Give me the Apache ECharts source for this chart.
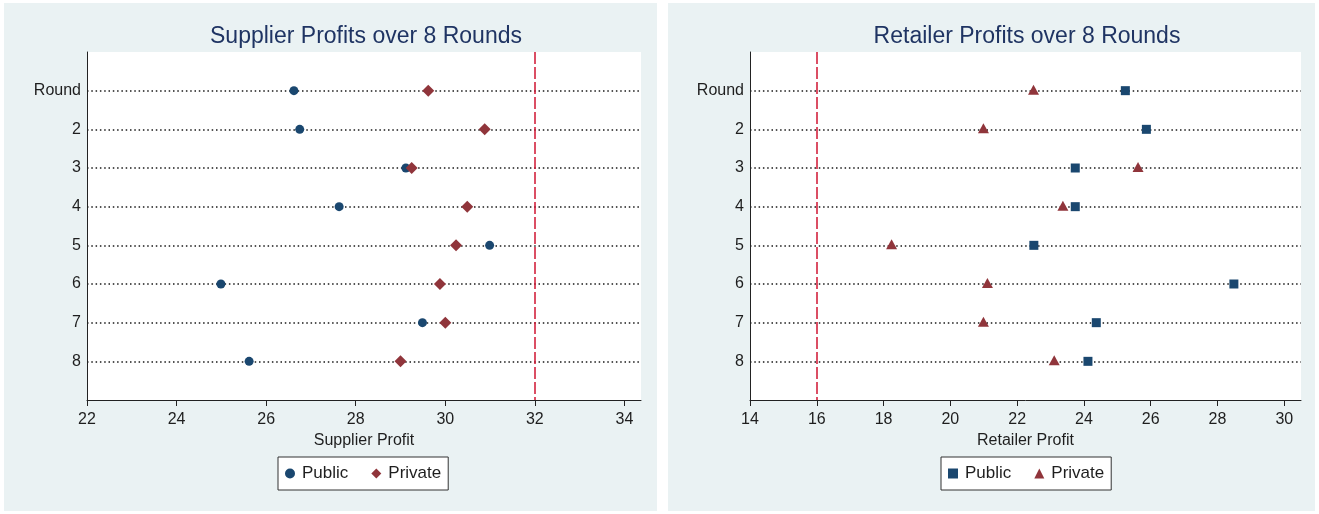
<!DOCTYPE html>
<html>
<head>
<meta charset="utf-8">
<script src="https://cdn.jsdelivr.net/npm/echarts@6/dist/echarts.min.js"></script>
<style>
  html, body { margin: 0; padding: 0; background: #ffffff; width: 1319px; height: 514px; overflow: hidden; }
  .panel { position: absolute; background: #eaf2f3; }
  #left { left: 4px; top: 3px; width: 653px; height: 508px; }
  #right { left: 668px; top: 3px; width: 647px; height: 508px; }
</style>
</head>
<body>
<div id="left" class="panel"></div>
<div id="right" class="panel"></div>
<script>
// ---- data ----
const roundLabels = ['Round', '2', '3', '4', '5', '6', '7', '8'];
const seriesNames = ['Public', 'Private'];

const supplierPublic  = [26.62, 26.75, 29.12, 27.63, 30.99, 24.99, 29.49, 25.62];
const supplierPrivate = [29.62, 30.88, 29.25, 30.49, 30.24, 29.88, 30.00, 29.00];
const supplierTicks   = [22, 24, 26, 28, 30, 32, 34];
const supplierRef     = 32;

const retailerPublic  = [25.24, 25.87, 23.74, 23.74, 22.50, 28.49, 24.37, 24.12];
const retailerPrivate = [22.49, 20.99, 25.62, 23.37, 18.24, 21.11, 20.99, 23.11];
const retailerTicks   = [14, 16, 18, 20, 22, 24, 26, 28, 30];
const retailerRef     = 16;

// ---- styling ----
const FONT = '"Liberation Sans", Arial, sans-serif';
const NAVY = '#1a476f';
const MAROON = '#90353b';
const REFRED = '#cf1432';
const TEXT = '#1e1e1e';

function toPoints(vals) {
  return vals.map((v, i) => [v, i + 1]);
}

function buildOption(cfg) {
  return {
    backgroundColor: '#eaf2f3',
    animation: false,
    textStyle: { fontFamily: FONT },
    title: {
      text: cfg.title,
      left: cfg.titleCenter,
      textAlign: 'center',
      top: 17,
      textStyle: { fontFamily: FONT, fontSize: 23, fontWeight: 'normal', color: '#1f3463' }
    },
    grid: {
      left: cfg.gridLeft, right: cfg.gridRight, top: 49, bottom: 111,
      show: true, backgroundColor: '#ffffff', borderWidth: 0
    },
    legend: {
      left: cfg.legendLeft, top: 454,
      orient: 'horizontal',
      backgroundColor: '#ffffff',
      borderColor: '#333333', borderWidth: 1, borderRadius: 0,
      padding: [8, 7, 8, 7],
      itemGap: 23,
      itemWidth: 10, itemHeight: 10,
      textStyle: { fontFamily: FONT, fontSize: 17, color: TEXT, padding: [0, 0, 0, 2] },
      data: seriesNames
    },
    xAxis: {
      type: 'value',
      min: cfg.xMin, max: cfg.xMax,
      name: cfg.xName, nameLocation: 'middle', nameGap: 30,
      nameTextStyle: { fontFamily: FONT, fontSize: 16, color: TEXT },
      axisLine: { show: true, onZero: false, lineStyle: { color: '#222', width: 1 } },
      axisTick: { show: true, length: 6, customValues: cfg.ticks, lineStyle: { color: '#222', width: 1 } },
      axisLabel: { customValues: cfg.ticks, fontFamily: FONT, fontSize: 16, color: TEXT, margin: 12 },
      splitLine: { show: false }
    },
    yAxis: {
      type: 'value',
      min: 0, max: roundLabels.length + 1, interval: 1,
      inverse: true,
      axisLine: { show: true, onZero: false, lineStyle: { color: '#222', width: 1 } },
      axisTick: { show: false },
      axisLabel: {
        fontFamily: FONT, fontSize: 16, color: TEXT, margin: 6,
        formatter: v => (v >= 1 && v <= roundLabels.length) ? roundLabels[v - 1] : ''
      },
      splitLine: {
        show: true, showMinLine: false, showMaxLine: false,
        lineStyle: { color: '#1a1a1a', width: 1.5, type: [1.5, 2.8] }
      }
    },
    series: [
      {
        name: seriesNames[0], type: 'scatter',
        symbol: cfg.pubSymbol, symbolSize: cfg.pubSize, symbolKeepAspect: true,
        itemStyle: { color: NAVY, opacity: 1 },
        data: toPoints(cfg.pub),
        z: 3,
        markLine: {
          silent: true, symbol: ['none', 'none'],
          label: { show: false },
          lineStyle: { color: REFRED, width: 1.5, type: [12, 3], opacity: 1 },
          data: [{ xAxis: cfg.ref }],
          z: 2
        }
      },
      {
        name: seriesNames[1], type: 'scatter',
        symbol: cfg.privSymbol, symbolSize: cfg.privSize, symbolKeepAspect: true,
        symbolOffset: cfg.privOffset,
        itemStyle: { color: MAROON, opacity: 1 },
        data: toPoints(cfg.priv),
        z: 4
      }
    ]
  };
}

const leftChart = echarts.init(document.getElementById('left'), null, { renderer: 'canvas' });
leftChart.setOption(buildOption({
  title: 'Supplier Profits over 8 Rounds', titleCenter: 357,
  gridLeft: 83, gridRight: 16,
  legendLeft: 274,
  xMin: 22, xMax: 34.37, ticks: supplierTicks, ref: supplierRef,
  xName: 'Supplier Profit',
  pub: supplierPublic, priv: supplierPrivate,
  pubSymbol: 'circle', pubSize: 9,
  privSymbol: 'diamond', privSize: [12, 12], privOffset: [0, 0]
}));

const rightChart = echarts.init(document.getElementById('right'), null, { renderer: 'canvas' });
rightChart.setOption(buildOption({
  title: 'Retailer Profits over 8 Rounds', titleCenter: 354,
  gridLeft: 82, gridRight: 14,
  legendLeft: 273,
  xMin: 14, xMax: 30.5, ticks: retailerTicks, ref: retailerRef,
  xName: 'Retailer Profit',
  pub: retailerPublic, priv: retailerPrivate,
  pubSymbol: 'rect', pubSize: 9,
  privSymbol: 'triangle', privSize: [11, 10], privOffset: [0, -1]
}));
</script>
</body>
</html>
